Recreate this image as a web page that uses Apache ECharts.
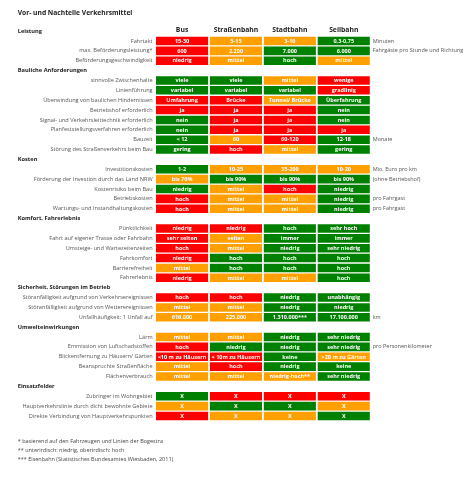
<!DOCTYPE html>
<html>
<head>
<meta charset="utf-8">
<script src="https://cdn.jsdelivr.net/npm/echarts@6/dist/echarts.min.js"></script>
<style>html,body{margin:0;padding:0;background:#fff}#c{width:472px;height:480px}</style>
</head>
<body>
<div id="c"></div>
<script>
// ---- data ----
const titleText = 'Vor- und Nachteile Verkehrsmittel';
const columns = ['Bus', 'Straßenbahn', 'Stadtbahn', 'Seilbahn'];
const sectionTitles = ['Leistung', 'Bauliche Anforderungen', 'Kosten', 'Komfort, Fahrerlebnis',
  'Sicherheit, Störungen im Betrieb', 'Umwelteinwirkungen', 'Einsatzfelder'];
// number of rows in each section
const sectionSizes = [3, 8, 5, 6, 3, 5, 3];
const rowLabels = [
  'Fahrtakt', 'max. Beförderungsleistung*', 'Beförderungsgeschwindigkeit',
  'sinnvolle Zwischenhalte', 'Linienführung', 'Überwindung von baulichen Hindernissen', 'Betriebshof erforderlich',
  'Signal- und Verkehrsleittechnik erforderlich', 'Planfeststellungsverfahren erforderlich', 'Bauzeit', 'Störung des Straßenverkehrs beim Bau',
  'Investitionskosten', 'Förderung der Investion durch das Land NRW', 'Kostenrisiko beim Bau', 'Betriebskosten', 'Wartungs- und Instandhaltungskosten',
  'Pünktlichkeit', 'Fahrt auf eigener Trasse oder Fahrbahn', 'Umsteige- und Wartezeitenzeiten', 'Fahrkomfort', 'Barrierefreiheit', 'Fahrerlebnis',
  'Störanfälligkeit aufgrund von Verkehrsereignissen', 'Störanfälligkeit aufgrund von Wetterereignissen', 'Unfallhäufigkeit: 1 Unfall auf',
  'Lärm', 'Emmission von Luftschadstoffen', 'Blickentfernung zu Häusern/ Gärten', 'Beanspruchte Straßenfläche', 'Flächenverbrauch',
  'Zubringer im Wohngebiet', 'Hauptverkehrslinie durch dicht bewohnte Gebiete', 'Direkte Verbindung von Hauptverkehrspunkten'
];
const rowUnits = [
  'Minuten', 'Fahrgäste pro Stunde und Richtung', '',
  '', '', '', '', '', '', 'Monate', '',
  'Mio. Euro pro km', '(ohne Betriebshof)', '', 'pro Fahrgast', 'pro Fahrgast',
  '', '', '', '', '', '',
  '', '', 'km',
  '', 'pro Personenkilometer', '', '', '',
  '', '', ''
];
const busText = ['15-30', '600', 'niedrig', 'viele', 'variabel', 'Umfahrung', 'ja', 'nein', 'nein', '< 12', 'gering',
  '1-2', 'bis 70%', 'niedrig', 'hoch', 'hoch', 'niedrig', 'sehr selten', 'hoch', 'niedrig', 'mittel', 'niedrig',
  'hoch', 'mittel', '616.000', 'mittel', 'hoch', '<10 m zu Häusern', 'mittel', 'mittel', 'X', 'X', 'X'];
const strassenbahnText = ['5-15', '2.200', 'mittel', 'viele', 'variabel', 'Brücke', 'ja', 'ja', 'ja', '60', 'hoch',
  '10-25', 'bis 90%', 'mittel', 'mittel', 'mittel', 'niedrig', 'selten', 'mittel', 'hoch', 'hoch', 'mittel',
  'hoch', 'mittel', '225.000', 'mittel', 'niedrig', '< 10m zu Häusern', 'hoch', 'mittel', 'X', 'X', 'X'];
const stadtbahnText = ['3-10', '7.000', 'hoch', 'mittel', 'variabel', 'Tunnel/ Brücke', 'ja', 'ja', 'ja', '60-120', 'mittel',
  '35-200', 'bis 90%', 'hoch', 'mittel', 'mittel', 'hoch', 'immer', 'niedrig', 'hoch', 'hoch', 'mittel',
  'niedrig', 'niedrig', '1.310.000***', 'niedrig', 'niedrig', 'keine', 'niedrig', 'niedrig-hoch**', 'X', 'X', 'X'];
const seilbahnText = ['0,3-0,75', '6.000', 'mittel', 'wenige', 'gradlinig', 'Überfahrung', 'nein', 'nein', 'ja', '12-18', 'gering',
  '10-20', 'bis 90%', 'niedrig', 'niedrig', 'niedrig', 'sehr hoch', 'immer', 'sehr niedrig', 'hoch', 'hoch', 'hoch',
  'unabhängig', 'niedrig', '17.100.000', 'sehr niedrig', 'sehr niedrig', '>20 m zu Gärten', 'keine', 'sehr niedrig', 'X', 'X', 'X'];
// rating: 0 = Nachteil (rot), 1 = mittel (orange), 2 = Vorteil (grün)
const busRating = [0, 0, 0, 2, 2, 0, 0, 2, 2, 2, 2, 2, 1, 2, 0, 0, 0, 0, 0, 0, 1, 0, 0, 1, 1, 1, 0, 0, 1, 1, 2, 1, 0];
const strassenbahnRating = [1, 1, 1, 2, 2, 0, 0, 0, 0, 1, 0, 1, 2, 1, 1, 1, 0, 1, 1, 2, 2, 1, 0, 1, 1, 1, 2, 0, 0, 1, 0, 2, 1];
const stadtbahnRating = [1, 2, 2, 1, 2, 1, 0, 0, 0, 0, 1, 1, 2, 0, 1, 1, 2, 2, 2, 2, 2, 1, 2, 2, 2, 2, 2, 2, 2, 1, 0, 2, 1];
const seilbahnRating = [2, 2, 1, 0, 0, 2, 2, 2, 0, 2, 2, 1, 2, 2, 2, 2, 2, 2, 2, 2, 2, 2, 2, 2, 2, 2, 2, 1, 2, 2, 0, 1, 2];
const footnotes = [
  '* basierend auf den Fahrzeugen und Linien der Bogestra',
  '** unterirdisch: niedrig, oberirdisch: hoch',
  '*** Eisenbahn (Statistisches Bundesamtes Wiesbaden, 2011)'
];

// ---- build lines (section heading lines + row lines) ----
const ratingColors = ['#ff0000', '#ffa000', '#008000'];
const colTexts = [busText, strassenbahnText, stadtbahnText, seilbahnText];
const colRatings = [busRating, strassenbahnRating, stadtbahnRating, seilbahnRating];
const lineLabels = [], lineHeadings = [], lineUnits = [], cells = [];
let r = 0;
sectionTitles.forEach((s, si) => {
  lineLabels.push(''); lineHeadings.push(s); lineUnits.push('');
  for (let k = 0; k < sectionSizes[si]; k++, r++) {
    const li = lineLabels.length;
    lineLabels.push(rowLabels[r]); lineHeadings.push(''); lineUnits.push(rowUnits[r]);
    for (let c = 0; c < columns.length; c++) {
      cells.push([c, li, colRatings[c][r], colTexts[c][r]]);
    }
  }
});

const FONT = '"Open Sans", "Noto Sans", sans-serif';
const chart = echarts.init(document.getElementById('c'), null, {renderer: 'canvas'});
const GRID_TOP = 26.2, GRID_BOTTOM_Y = 420.9, GRID_LEFT = 155.1, GRID_RIGHT_X = 370.7;
chart.setOption({
  animation: false,
  backgroundColor: '#fff',
  title: {
    text: titleText, left: 12.7, top: 5,
    textStyle: {fontFamily: FONT, fontSize: 6.7, fontWeight: 'bold', color: '#222'}
  },
  grid: {left: GRID_LEFT, top: GRID_TOP, width: GRID_RIGHT_X - GRID_LEFT, height: GRID_BOTTOM_Y - GRID_TOP, containLabel: false},
  xAxis: {
    type: 'category', position: 'top', data: columns,
    axisLine: {show: false}, axisTick: {show: false}, splitLine: {show: false},
    axisLabel: {fontFamily: FONT, fontSize: 6.8, fontWeight: 'bold', color: '#222', margin: -3.6, verticalAlign: 'middle', interval: 0}
  },
  yAxis: [
    {
      type: 'category', inverse: true, data: lineLabels, position: 'left',
      axisLine: {show: false}, axisTick: {show: false}, splitLine: {show: false},
      axisLabel: {fontFamily: FONT, fontSize: 5.6, color: '#555', margin: 2.5, interval: 0}
    },
    {
      type: 'category', inverse: true, data: lineHeadings, position: 'left', offset: GRID_LEFT - 17.7,
      axisLine: {show: false}, axisTick: {show: false}, splitLine: {show: false},
      axisLabel: {fontFamily: FONT, fontSize: 5.7, fontWeight: 'bold', color: '#222', margin: 0, align: 'left', interval: 0}
    },
    {
      type: 'category', inverse: true, data: lineUnits, position: 'right',
      axisLine: {show: false}, axisTick: {show: false}, splitLine: {show: false},
      axisLabel: {fontFamily: FONT, fontSize: 5.5, color: '#555', margin: 2, align: 'left', interval: 0}
    }
  ],
  series: [{
    type: 'custom',
    xAxisIndex: 0, yAxisIndex: 0,
    data: cells,
    renderItem: function (params, api) {
      const p = api.coord([api.value(0), api.value(1)]);
      const s = api.size([1, 1]);
      const w = s[0] - 1.8, h = s[1] - 1.3;
      const rating = api.value(2);
      const txt = cells[params.dataIndex][3];
      return {
        type: 'group',
        children: [{
          type: 'rect',
          shape: {x: p[0] - w / 2, y: p[1] - h / 2, width: w, height: h},
          style: {fill: ratingColors[rating]}
        }, {
          type: 'text',
          style: {
            x: p[0], y: p[1] + 0.2, text: txt, fill: '#fff',
            font: 'bold 5.5px ' + FONT, align: 'center', verticalAlign: 'middle'
          }
        }]
      };
    }
  }],
  graphic: footnotes.map((t, i) => ({
    type: 'text', left: 17.7, top: 438 + i * 9,
    style: {text: t, fill: '#444', font: '5.5px ' + FONT}
  }))
});
</script>
</body>
</html>
